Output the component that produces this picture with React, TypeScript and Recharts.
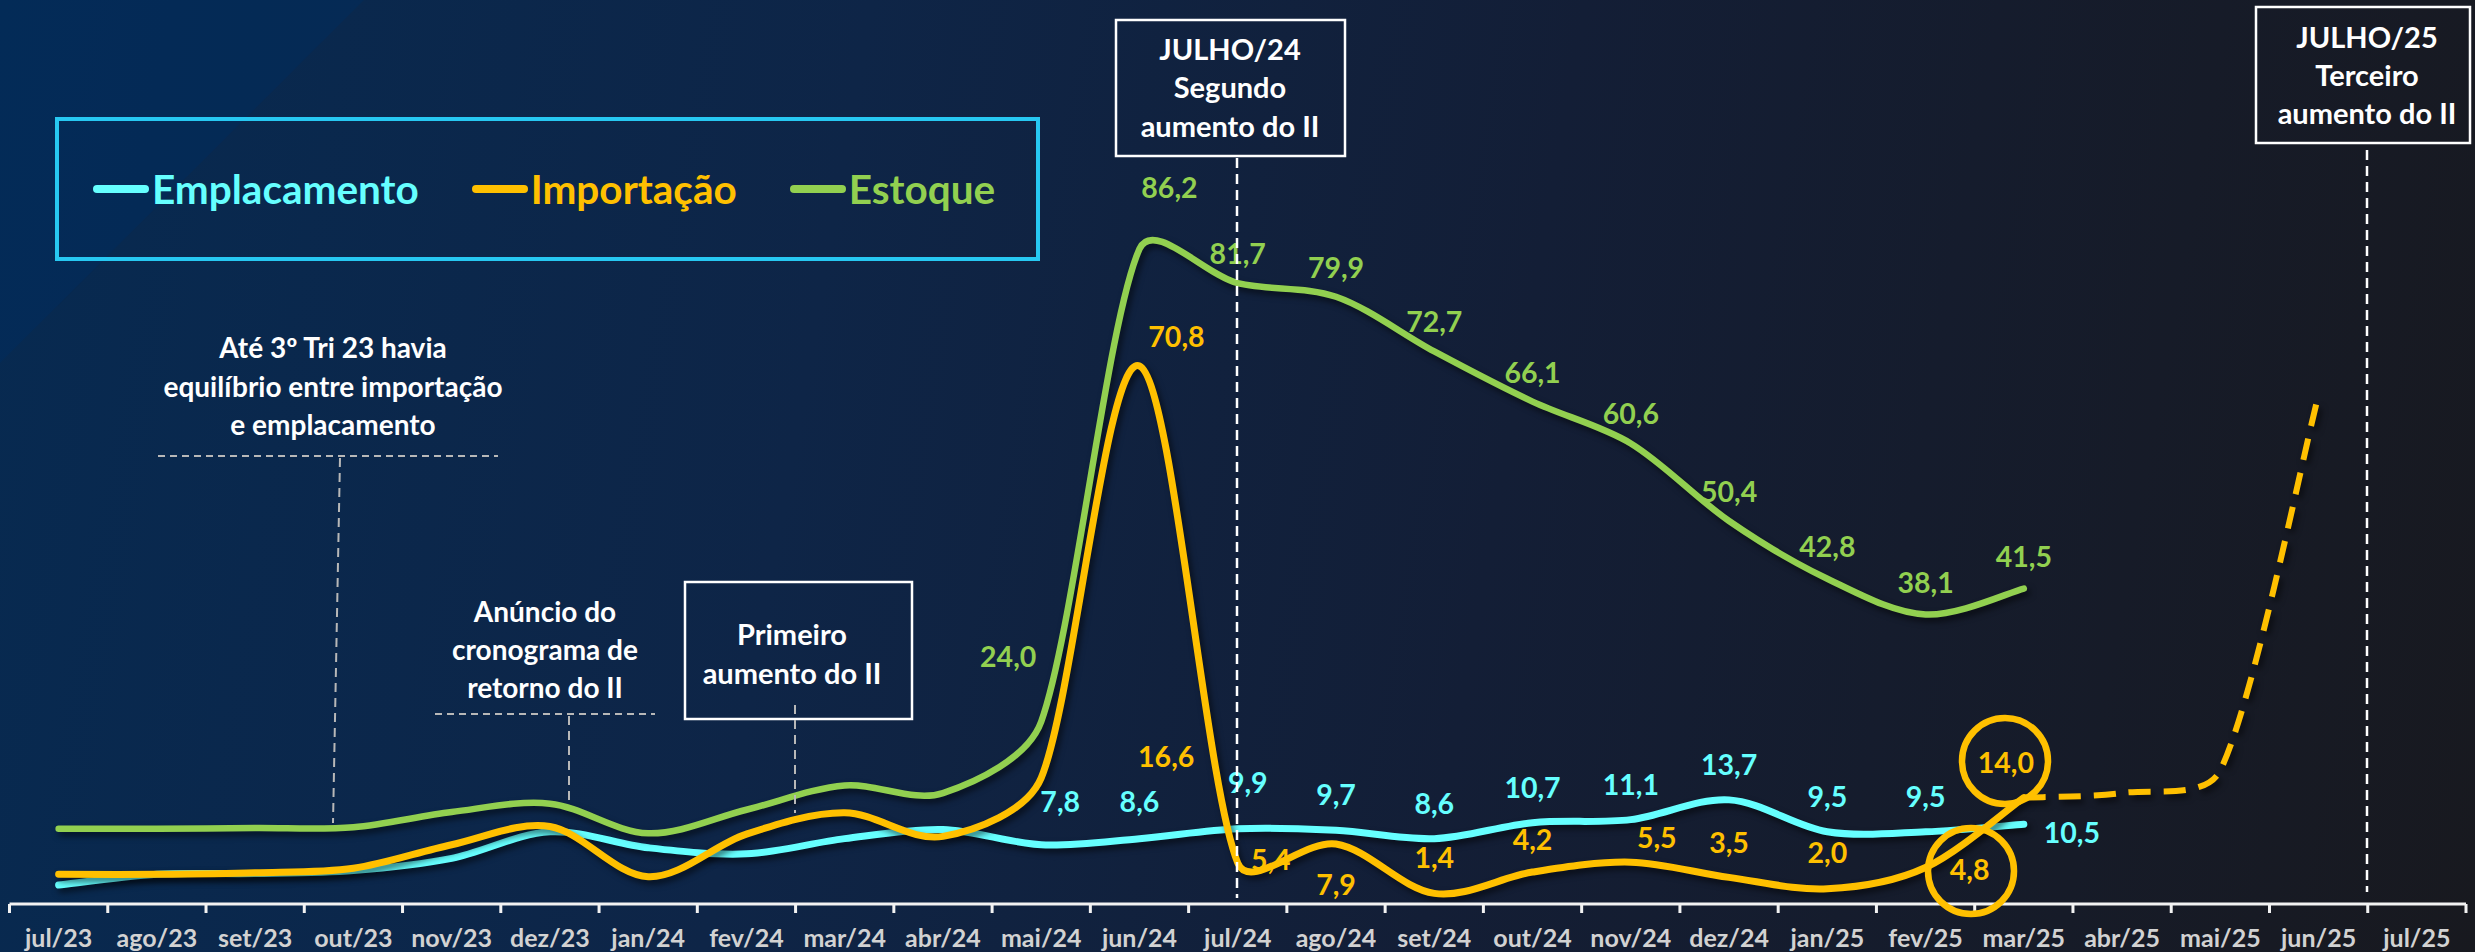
import React from 'react';
import { LineChart, Line, XAxis, YAxis, Legend, LabelList } from 'recharts';

// ---------------- DATA ----------------
const months = [
  'jul/23', 'ago/23', 'set/23', 'out/23', 'nov/23', 'dez/23', 'jan/24', 'fev/24', 'mar/24', 'abr/24',
  'mai/24', 'jun/24', 'jul/24', 'ago/24', 'set/24', 'out/24', 'nov/24', 'dez/24', 'jan/25', 'fev/25',
  'mar/25', 'abr/25', 'mai/25', 'jun/25', 'jul/25',
];

const emplacamento = [
  2.5, 3.9, 4.0, 4.4, 6.0, 9.5, 7.4, 6.6, 8.6, 9.8,
  7.8, 8.6, 9.9, 9.7, 8.6, 10.7, 11.1, 13.7, 9.5, 9.5,
  10.5, null, null, null, null,
];

const importacao = [
  3.9, 3.9, 4.1, 4.7, 7.8, 10.2, 3.6, 9.2, 12.0, 8.9,
  16.6, 70.8, 5.4, 7.9, 1.4, 4.2, 5.5, 3.5, 2.0, 4.8,
  14.0, null, null, null, null,
];

const estoque = [
  9.9, 9.9, 10.0, 10.1, 12.1, 13.2, 9.3, 12.4, 15.6, 14.6,
  24.0, 86.2, 81.7, 79.9, 72.7, 66.1, 60.6, 50.4, 42.8, 38.1,
  41.5, null, null, null, null,
];

const projecaoImportacao = [
  null, null, null, null, null, null, null, null, null, null,
  null, null, null, null, null, null, null, null, null, null,
  14.0, 14.6, 17.6, 67.0, null,
];

const seriesNames = ['Emplacamento', 'Importação', 'Estoque'];
const LABEL_FROM = 10; // first month with data labels (mai/24)

const rows = months.map((m, i) => ({
  month: m,
  emplacamento: emplacamento[i],
  importacao: importacao[i],
  estoque: estoque[i],
  projecao: projecaoImportacao[i],
}));

// ---------------- LAYOUT / STYLE ----------------
const W = 2475;
const H = 952;
const MARGIN = { top: 144, right: 9, bottom: 8, left: 9.5 };
const XAXIS_H = 40;
const BW = (W - MARGIN.left - MARGIN.right) / months.length;
const FONT = "Lato, 'Open Sans', 'DejaVu Sans', sans-serif";

const CYAN = '#66ffff';
const ORANGE = '#ffc000';
const GREEN = '#92d050';

// label offsets (dx, dy) relative to each point, by month index
const LABEL_OFFSETS: Record<string, Record<number, [number, number]>> = {
  estoque: { 10: [-33, -65], 11: [30, -61], 18: [0, -32], 19: [0, -31], 20: [0, -32] },
  importacao: {
    10: [125, -21], 11: [37, -29], 12: [33, -3], 13: [0, 41], 14: [0, -35], 15: [0, -32],
    16: [26, -24], 17: [0, -34], 18: [0, -36], 19: [44, 2], 20: [-18, -35],
  },
  emplacamento: { 10: [19, -43], 11: [0, -37], 12: [10, -46], 20: [48, 9] },
};
const DEFAULT_DY: Record<string, number> = { estoque: -29, importacao: -33, emplacamento: -35 };

const fmt = (v: number) => v.toFixed(1).replace('.', ',');

// Excel-like smoothed line: Catmull-Rom tangents, limited by the adjacent segment length
const CAP = 0.32;
const excelCurve: any = (context: any) => {
  let pts: number[][] = [];
  const limit = (vx: number, vy: number, segLen: number) => {
    const len = Math.hypot(vx, vy);
    const max = segLen * CAP;
    if (len > max && len > 0) {
      const k = max / len;
      return [vx * k, vy * k];
    }
    return [vx, vy];
  };
  return {
    areaStart() {},
    areaEnd() {},
    lineStart() {
      pts = [];
    },
    point(x: number, y: number) {
      pts.push([+x, +y]);
    },
    lineEnd() {
      const n = pts.length;
      if (n === 0) return;
      context.moveTo(pts[0][0], pts[0][1]);
      if (n === 1) {
        context.lineTo(pts[0][0], pts[0][1]);
        return;
      }
      for (let i = 0; i < n - 1; i++) {
        const p0 = pts[i === 0 ? 0 : i - 1];
        const p1 = pts[i];
        const p2 = pts[i + 1];
        const p3 = pts[i + 2 < n ? i + 2 : n - 1];
        const seg = Math.hypot(p2[0] - p1[0], p2[1] - p1[1]);
        const t1 = limit((p2[0] - p0[0]) / 6, (p2[1] - p0[1]) / 6, seg);
        const t2 = limit((p3[0] - p1[0]) / 6, (p3[1] - p1[1]) / 6, seg);
        context.bezierCurveTo(p1[0] + t1[0], p1[1] + t1[1], p2[0] - t2[0], p2[1] - t2[1], p2[0], p2[1]);
      }
    },
  };
};

const makeLabel = (key: string, color: string) => (props: any) => {
  const { x, y, value, index } = props;
  if (value == null || index < LABEL_FROM) return null;
  const off = LABEL_OFFSETS[key][index] || [0, DEFAULT_DY[key]];
  return (
    <text
      x={x + off[0]}
      y={y + off[1] + 10}
      textAnchor="middle"
      fill={color}
      fontSize={28.5}
      fontWeight={700}
      fontFamily={FONT}
    >
      {fmt(value)}
    </text>
  );
};

const AxisTick = (props: any) => {
  const { x, y, payload } = props;
  const isLast = payload.index === months.length - 1;
  return (
    <g>
      <line x1={x - BW / 2} x2={x - BW / 2} y1={y} y2={y + 9} stroke="#f2f2f2" strokeWidth={3} />
      {isLast && <line x1={x + BW / 2} x2={x + BW / 2} y1={y} y2={y + 9} stroke="#f2f2f2" strokeWidth={3} />}
      <text x={x} y={y + 43} textAnchor="middle" fill="#d2d2d2" fontSize={25} fontWeight={700} fontFamily={FONT}>
        {payload.value}
      </text>
    </g>
  );
};

const legendColors = [CYAN, ORANGE, GREEN];

const LegendBox = () => (
  <div
    style={{
      boxSizing: 'border-box',
      width: 985,
      height: 144,
      border: '4px solid #27c8f2',
      display: 'flex',
      alignItems: 'center',
      paddingLeft: 34,
      fontFamily: FONT,
    }}
  >
    {seriesNames.map((name, i) => (
      <div key={name} style={{ display: 'flex', alignItems: 'center', marginRight: 53 }}>
        <div style={{ width: 56, height: 8, borderRadius: 4, background: legendColors[i], marginRight: 3 }} />
        <span style={{ color: legendColors[i], fontSize: 40.5, fontWeight: 700, lineHeight: 1 }}>{name}</span>
      </div>
    ))}
  </div>
);

const T = (props: any) => (
  <text
    x={props.x}
    y={props.y}
    textAnchor="middle"
    fill="#ffffff"
    fontSize={props.size || 28}
    fontWeight={700}
    fontFamily={FONT}
  >
    {props.children}
  </text>
);

const Annotations = () => (
  <svg width={W} height={H} style={{ position: 'absolute', left: 0, top: 0, pointerEvents: 'none' }}>
    {/* Até 3º Tri 23 */}
    <T x={333} y={358}>Até 3º Tri 23 havia</T>
    <T x={333} y={397}>equilíbrio entre importação</T>
    <T x={333} y={435}>e emplacamento</T>
    <line x1={158} x2={498} y1={456} y2={456} stroke="#b8b8b8" strokeWidth={2} strokeDasharray="7 5" />
    <line x1={340} x2={333} y1={458} y2={823} stroke="#b8b8b8" strokeWidth={2} strokeDasharray="9 6" />

    {/* Anúncio */}
    <T x={545} y={622}>Anúncio do</T>
    <T x={545} y={660}>cronograma de</T>
    <T x={545} y={698}>retorno do II</T>
    <line x1={435} x2={655} y1={714} y2={714} stroke="#b8b8b8" strokeWidth={2} strokeDasharray="7 5" />
    <line x1={569} x2={569} y1={716} y2={805} stroke="#b8b8b8" strokeWidth={2} strokeDasharray="9 6" />

    {/* Primeiro aumento */}
    <rect x={685} y={582} width={227} height={137} fill="none" stroke="#ffffff" strokeWidth={2.5} />
    <T x={792} y={645} size={29}>Primeiro</T>
    <T x={792} y={684} size={29}>aumento do II</T>
    <line x1={795} x2={795} y1={705} y2={813} stroke="#b8b8b8" strokeWidth={2} strokeDasharray="9 6" />

    {/* JULHO/24 */}
    <rect x={1116} y={20} width={229} height={136} fill="none" stroke="#ffffff" strokeWidth={2.5} />
    <T x={1230} y={60} size={29}>JULHO/24</T>
    <T x={1230} y={98} size={29}>Segundo</T>
    <T x={1230} y={137} size={29}>aumento do II</T>
    <line x1={1237} x2={1237} y1={158} y2={898} stroke="#ffffff" strokeWidth={2.5} strokeDasharray="10 6" />

    {/* JULHO/25 */}
    <rect x={2256} y={7} width={214} height={136} fill="none" stroke="#ffffff" strokeWidth={2.5} />
    <T x={2367} y={48} size={29}>JULHO/25</T>
    <T x={2367} y={86} size={29}>Terceiro</T>
    <T x={2367} y={124} size={29}>aumento do II</T>
    <line x1={2367} x2={2367} y1={150} y2={892} stroke="#ffffff" strokeWidth={2.5} strokeDasharray="10 6" />

    {/* highlight circles */}
    <circle cx={2005} cy={761} r={43} fill="none" stroke={ORANGE} strokeWidth={6.5} />
    <circle cx={1971} cy={871} r={43} fill="none" stroke={ORANGE} strokeWidth={6.5} />
  </svg>
);

export default function App() {
  return (
    <div
      style={{
        position: 'absolute',
        left: 0,
        top: 0,
        width: W,
        height: H,
        overflow: 'hidden',
        background: 'linear-gradient(100deg, #072a51 0%, #0e2547 33%, #131e36 60%, #18191f 100%)',
        fontFamily: FONT,
      }}
    >
      <style>{`.recharts-line-curve { filter: drop-shadow(3px 4px 3px rgba(0,0,0,0.55)); }`}</style>
      <div
        style={{
          position: 'absolute',
          left: 0,
          top: 0,
          width: 370,
          height: 370,
          background: 'rgba(0, 45, 95, 0.45)',
          clipPath: 'polygon(0 0, 364px 0, 0 363px)',
        }}
      />
      <div style={{ position: 'absolute', left: 0, top: 0 }}>
        <LineChart width={W} height={H} data={rows} margin={MARGIN}>
          <XAxis
            dataKey="month"
            scale="band"
            interval={0}
            height={XAXIS_H}
            tickLine={false}
            tickSize={0}
            tickMargin={0}
            axisLine={{ stroke: '#f2f2f2', strokeWidth: 3 }}
            tick={<AxisTick />}
          />
          <YAxis hide domain={[0, 100]} allowDataOverflow />
          <Legend
            layout="vertical"
            align="center"
            verticalAlign="middle"
            content={() => <LegendBox />}
            wrapperStyle={{ left: 55, top: 117, width: 985, height: 144 }}
          />
          <Line
            dataKey="emplacamento"
            name="Emplacamento"
            stroke={CYAN}
            strokeWidth={7}
            strokeLinecap="round"
            type={excelCurve}
            dot={false}
            activeDot={false}
            isAnimationActive={false}
          >
            <LabelList dataKey="emplacamento" content={makeLabel('emplacamento', CYAN)} />
          </Line>
          <Line
            dataKey="estoque"
            name="Estoque"
            stroke={GREEN}
            strokeWidth={6.5}
            strokeLinecap="round"
            type={excelCurve}
            dot={false}
            activeDot={false}
            isAnimationActive={false}
          >
            <LabelList dataKey="estoque" content={makeLabel('estoque', GREEN)} />
          </Line>
          <Line
            dataKey="importacao"
            name="Importação"
            stroke={ORANGE}
            strokeWidth={7}
            strokeLinecap="round"
            type={excelCurve}
            dot={false}
            activeDot={false}
            isAnimationActive={false}
          >
            <LabelList dataKey="importacao" content={makeLabel('importacao', ORANGE)} />
          </Line>
          <Line
            dataKey="projecao"
            name="Projeção"
            legendType="none"
            stroke={ORANGE}
            strokeWidth={6}
            strokeDasharray="22 13"
            type={excelCurve}
            dot={false}
            activeDot={false}
            isAnimationActive={false}
          />
        </LineChart>
      </div>
      <Annotations />
    </div>
  );
}
